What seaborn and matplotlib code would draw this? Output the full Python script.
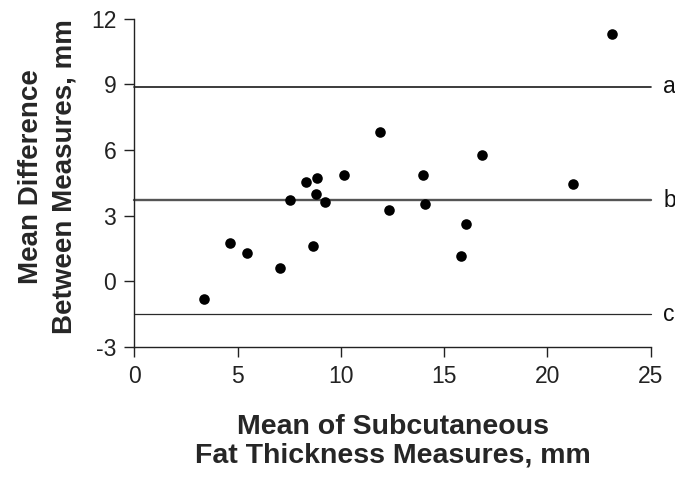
import matplotlib
matplotlib.use("Agg")
import matplotlib.pyplot as plt
import pandas as pd
import seaborn as sns

# Bland-Altman style data
mean_thickness = [3.36, 4.61, 5.45, 7.06, 7.56, 8.33, 8.83, 8.78, 9.25, 8.67,
                  10.14, 11.91, 12.32, 13.98, 14.06, 16.08, 15.83, 16.83, 21.24, 23.14]
mean_difference = [-0.82, 1.77, 1.31, 0.61, 3.71, 4.55, 4.72, 3.98, 3.65, 1.63,
                   4.87, 6.81, 3.25, 4.87, 3.53, 2.60, 1.15, 5.79, 4.44, 11.30]
ref_labels = ["a", "b", "c"]
ref_values = [8.9, 3.7, -1.5]

df = pd.DataFrame({"x": mean_thickness, "y": mean_difference})

sns.set_theme(style="ticks")
plt.rcParams["font.family"] = ["Liberation Sans", "DejaVu Sans"]
plt.rcParams["axes.unicode_minus"] = False

fig, ax = plt.subplots(figsize=(6.75, 4.82), dpi=100)
fig.subplots_adjust(left=0.199, right=0.964, top=0.961, bottom=0.28)

line_styles = {"a": ("#1a1a1a", 1.2), "b": ("#555555", 1.7), "c": ("#2a2a2a", 0.9)}
for lab, val in zip(ref_labels, ref_values):
    color, lw = line_styles[lab]
    ax.plot([0, 25], [val, val], color=color, lw=lw, zorder=1, clip_on=False)
    ax.text(25.6, val, lab, fontsize=16.5, va="center", ha="left", color="#111111")

sns.scatterplot(data=df, x="x", y="y", ax=ax, color="black", s=58,
                edgecolor="black", linewidth=0, zorder=3, clip_on=False)

ax.set_xlim(0, 25)
ax.set_ylim(-3, 12)
ax.set_xticks(range(0, 26, 5))
ax.set_yticks(range(-3, 13, 3))
ax.tick_params(axis="both", labelsize=16.5, direction="out", length=7,
               width=1, colors="#222222", pad=6)
for side in ["top", "right"]:
    ax.spines[side].set_visible(False)
for side in ["left", "bottom"]:
    ax.spines[side].set_color("#222222")
    ax.spines[side].set_linewidth(1)

ax.set_xlabel("Mean of Subcutaneous\nFat Thickness Measures, mm",
              fontsize=20.5, fontweight="bold", linespacing=1.1)
ax.set_ylabel("Mean Difference\nBetween Measures, mm",
              fontsize=20, fontweight="bold", linespacing=1.4)
ax.xaxis.set_label_coords(0.5, -0.205)
ax.yaxis.set_label_coords(-0.11, 0.52)

fig.savefig("out.png", dpi=100)
